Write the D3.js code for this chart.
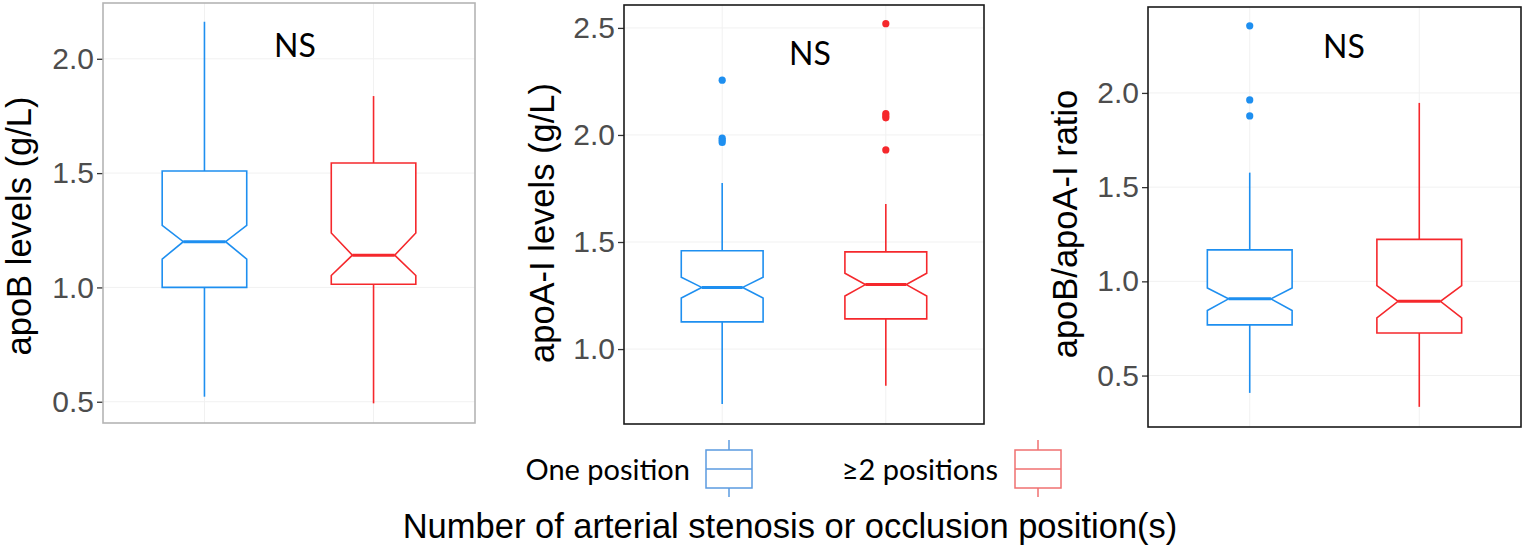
<!DOCTYPE html>
<html>
<head>
<meta charset="utf-8">
<script src="https://cdn.jsdelivr.net/npm/d3@7"></script>
<style>
  html, body { margin: 0; padding: 0; background: #fff; }
  svg { display: block; }
</style>
</head>
<body>
<svg id="chart" width="1524" height="549"></svg>
<script>
// ---------------- data ----------------
const groups = ["One position", "≥2 positions"];
const yTitles = ["apoB levels (g/L)", "apoA-I levels (g/L)", "apoB/apoA-I ratio"];
const annotations = ["NS", "NS", "NS"];
const xTitle = "Number of arterial stenosis or occlusion position(s)";

// box stats per group: [lower whisker, Q1, notch low, median, notch high, Q3, upper whisker]
const apoBStats = [
  [0.522, 1.000, 1.124, 1.200, 1.271, 1.509, 2.162],
  [0.493, 1.014, 1.052, 1.141, 1.238, 1.544, 1.837]
];
const apoBOutliers = [[], []];
const apoBTicks = [0.5, 1.0, 1.5, 2.0];
const apoBRange = [0.407, 2.244];

const apoAStats = [
  [0.743, 1.127, 1.238, 1.288, 1.335, 1.459, 1.776],
  [0.829, 1.141, 1.248, 1.301, 1.354, 1.454, 1.678]
];
const apoAOutliers = [
  [2.256, 1.985, 1.975, 1.965],
  [2.520, 2.100, 2.090, 2.080, 1.930]
];
const apoATicks = [1.0, 1.5, 2.0, 2.5];
const apoARange = [0.650, 2.607];

const ratioStats = [
  [0.408, 0.769, 0.845, 0.907, 0.965, 1.167, 1.577],
  [0.334, 0.726, 0.806, 0.894, 0.977, 1.223, 1.947]
];
const ratioOutliers = [
  [2.356, 1.963, 1.878],
  []
];
const ratioTicks = [0.5, 1.0, 1.5, 2.0];
const ratioRange = [0.227, 2.456];

// ---------------- style / layout ----------------
const colors = ["#1E8FF0", "#F5282C"];
const legendColors = ["#5B9BE0", "#F07070"];
const axisFont = "'Liberation Sans', Arial, sans-serif";
const noteFont = "'Lato', 'Open Sans', sans-serif";

const panels = [
  { stats: apoBStats, outliers: apoBOutliers, ticks: apoBTicks, range: apoBRange,
    x0: 103, x1: 475, y0: 3, y1: 423, border: "#b5b5b5", titleX: 31, titleY: 226, nsX: 295, nsY: 57 },
  { stats: apoAStats, outliers: apoAOutliers, ticks: apoATicks, range: apoARange,
    x0: 624, x1: 984, y0: 5, y1: 424, border: "#1a1a1a", titleX: 554, titleY: 223, nsX: 810, nsY: 65 },
  { stats: ratioStats, outliers: ratioOutliers, ticks: ratioTicks, range: ratioRange,
    x0: 1148, x1: 1521, y0: 7, y1: 427, border: "#1a1a1a", titleX: 1077, titleY: 224, nsX: 1344, nsY: 58 }
];

const svg = d3.select("#chart");

panels.forEach((p, pi) => {
  const x = d3.scaleLinear().domain([0.4, 2.6]).range([p.x0, p.x1]);
  const y = d3.scaleLinear().domain(p.range).range([p.y1, p.y0]);
  const g = svg.append("g");

  // background
  g.append("rect").attr("x", p.x0).attr("y", p.y0)
    .attr("width", p.x1 - p.x0).attr("height", p.y1 - p.y0)
    .attr("fill", "#fff");

  // grid
  g.selectAll(".hg").data(p.ticks).join("line")
    .attr("x1", p.x0).attr("x2", p.x1)
    .attr("y1", d => y(d)).attr("y2", d => y(d))
    .attr("stroke", "#f1f1f1").attr("stroke-width", 1);
  g.selectAll(".vg").data([1, 2]).join("line")
    .attr("x1", d => x(d)).attr("x2", d => x(d))
    .attr("y1", p.y0).attr("y2", p.y1)
    .attr("stroke", "#f1f1f1").attr("stroke-width", 1);

  // y axis
  const axis = d3.axisLeft(y).tickValues(p.ticks).tickFormat(d3.format(".1f"))
    .tickSize(6).tickPadding(3);
  const ag = g.append("g").attr("transform", `translate(${p.x0},0)`).call(axis);
  ag.select(".domain").remove();
  ag.selectAll(".tick line").attr("stroke", "#333").attr("stroke-width", 1.3);
  ag.selectAll(".tick text").attr("fill", "#4d4d4d")
    .style("font-family", axisFont).style("font-size", "30px");

  // boxes
  const bw = 0.5;
  p.stats.forEach((s, gi) => {
    const [lw, q1, nl, med, nh, q3, uw] = s;
    const c = colors[gi];
    const xl = x(gi + 1 - bw / 2), xr = x(gi + 1 + bw / 2);
    const xil = x(gi + 1 - bw / 4), xir = x(gi + 1 + bw / 4);
    const xc = x(gi + 1);
    // whiskers
    g.append("line").attr("x1", xc).attr("x2", xc).attr("y1", y(q3)).attr("y2", y(uw))
      .attr("stroke", c).attr("stroke-width", 1.6);
    g.append("line").attr("x1", xc).attr("x2", xc).attr("y1", y(q1)).attr("y2", y(lw))
      .attr("stroke", c).attr("stroke-width", 1.6);
    // notched box
    const pts = [
      [xl, y(q3)], [xl, y(nh)], [xil, y(med)], [xl, y(nl)], [xl, y(q1)],
      [xr, y(q1)], [xr, y(nl)], [xir, y(med)], [xr, y(nh)], [xr, y(q3)]
    ];
    g.append("path").attr("d", d3.line()(pts) + "Z")
      .attr("fill", "#fff").attr("stroke", c).attr("stroke-width", 1.6)
      .attr("stroke-linejoin", "miter");
    // median
    g.append("line").attr("x1", xil).attr("x2", xir).attr("y1", y(med)).attr("y2", y(med))
      .attr("stroke", c).attr("stroke-width", 3);
    // outliers
    g.selectAll(null).data(p.outliers[gi]).join("circle")
      .attr("cx", xc).attr("cy", d => y(d)).attr("r", 3.6).attr("fill", c);
  });

  // border
  g.append("rect").attr("x", p.x0).attr("y", p.y0)
    .attr("width", p.x1 - p.x0).attr("height", p.y1 - p.y0)
    .attr("fill", "none").attr("stroke", p.border).attr("stroke-width", 1.6);

  // y title
  g.append("text")
    .attr("transform", `translate(${p.titleX},${p.titleY}) rotate(-90)`)
    .attr("text-anchor", "middle")
    .style("font-family", axisFont).style("font-size", "34.5px").attr("fill", "#000")
    .text(yTitles[pi]);

  // NS annotation
  g.append("text").attr("x", p.nsX).attr("y", p.nsY).attr("text-anchor", "middle")
    .style("font-family", noteFont).style("font-size", "32px").attr("fill", "#000")
    .text(annotations[pi]);
});

// legend
const legendItems = [
  { textEnd: 690, kx: 706 },
  { textEnd: 998, kx: 1015 }
];
groups.forEach((name, i) => {
  const L = legendItems[i];
  const c = legendColors[i];
  const lg = svg.append("g");
  lg.append("text").attr("x", L.textEnd).attr("y", 480).attr("text-anchor", "end")
    .style("font-family", noteFont).style("font-size", "29px").attr("fill", "#000")
    .text(name);
  const kw = 46, top = 450, bot = 488;
  lg.append("line").attr("x1", L.kx + kw / 2).attr("x2", L.kx + kw / 2)
    .attr("y1", top - 10).attr("y2", bot + 9).attr("stroke", c).attr("stroke-width", 1.5);
  lg.append("rect").attr("x", L.kx).attr("y", top).attr("width", kw).attr("height", bot - top)
    .attr("fill", "#fff").attr("stroke", c).attr("stroke-width", 1.5);
  lg.append("line").attr("x1", L.kx).attr("x2", L.kx + kw)
    .attr("y1", (top + bot) / 2).attr("y2", (top + bot) / 2)
    .attr("stroke", c).attr("stroke-width", 1.5);
});

// x title
svg.append("text").attr("x", 790).attr("y", 538).attr("text-anchor", "middle")
  .style("font-family", axisFont).style("font-size", "34.5px").attr("fill", "#000")
  .text(xTitle);
</script>
</body>
</html>
